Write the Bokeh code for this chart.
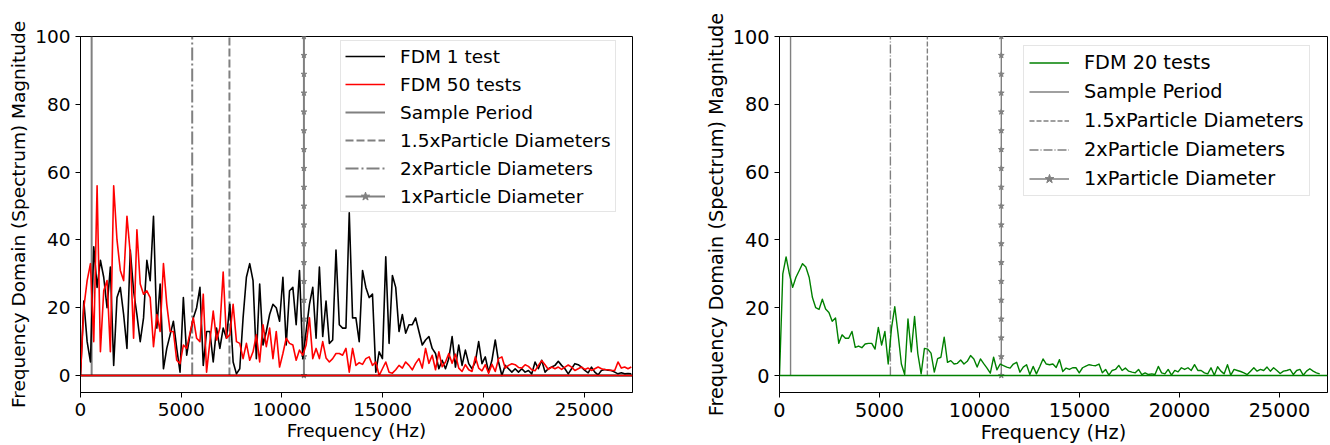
import numpy as np
from bokeh.plotting import figure
from bokeh.models import Span, Legend, LegendItem, FixedTicker, Range1d
from bokeh.layouts import row
from bokeh.embed import file_html
from bokeh.resources import INLINE

# FFT bin spacing (Hz)
DF = 164.7

fdm1 = [0, 22, 10, 4, 38, 26, 34, 29, 20, 32, 3, 23, 26, 18, 8, 37, 25, 18, 10, 17,
        34, 28, 47, 14, 27, 2, 8, 12, 16, 8, 1, 23, 6, 12, 17, 20, 26, 3, 13, 13,
        4, 14, 8, 14, 11, 21, 4, 0.5, 2, 17, 29, 33, 28, 5, 27, 9, 13, 18, 21, 20,
        16, 29, 9, 25, 26, 15, 31, 5, 13, 21, 26, 11, 32, 11.5, 22, 9.5, 10.5, 37, 15, 14,
        14, 48, 17, 17, 10, 31, 26, 23, 24, 1, 7, 5, 35, 9.5, 29.5, 26, 13, 18, 12.5, 15,
        15, 17, 13, 9, 10.5, 11.5, 8, 6.5, 2, 4.5, 2, 5, 11.5, 2.5, 9, 3, 7.5, 3.5, 2, 4,
        10, 3.5, 5.5, 1, 4.5, 10.5, 4, 0, 3, 2, 1, 2, 1, 2, 1, 1.5, 0.5, 4, 2, 4.5,
        1, 2, 2.5, 3, 4.2, 3, 2, 0.5, 2, 3.5, 3.2, 2.5, 1.5, 0.8, 2.5, 1, 0.2, 1.5, 1.8, 1.6,
        1.5, 1, 0.5, 0.8, 0.5, 0.6, 0.5]

fdm50 = [0, 20, 28, 33, 10, 56, 7, 25, 28, 7, 56, 40, 31, 28, 47, 36, 11, 43, 27, 24,
         25, 23, 8.5, 18, 13, 33, 21, 13, 13, 4.5, 3.5, 9, 8, 12.5, 17, 11, 10, 24, 1, 10,
         19, 10.5, 14, 30.5, 11, 12, 21, 10, 9.5, 5, 9.5, 4.5, 7, 12, 4, 15, 8.5, 14, 5, 13,
         2.5, 6.5, 11, 9.5, 9, 4.5, 7.5, 6, 9, 17, 5, 8, 5, 10, 5.2, 4, 5, 6.5, 6.5, 6,
         8, 1, 8, 3, 3.8, 3.3, 5, 5.5, 3, 4, 0, 2, 4, 1, 0.7, 1.7, 3, 2.2, 4, 3,
         1.7, 3.6, 5, 2.2, 8, 3.6, 6, 1.7, 7, 2.6, 4, 6.5, 3.6, 6.3, 2.2, 1.2, 3.2, 1.7, 1.2, 5.5,
         2.2, 1.4, 3.2, 0.7, 3.3, 1.2, 5, 5.5, 2.2, 3, 3.5, 3.2, 2.4, 2.2, 3.2, 2.7, 1.7, 1.4, 3, 4.4,
         3.2, 1.8, 2.5, 2, 2.5, 1.8, 2.5, 3.1, 2.5, 1.5, 2, 2.5, 1.8, 2.2, 1.5, 2, 2.5, 2, 1.8, 1.7,
         1.5, 1.5, 4, 2.2, 2.5, 2, 2.5]

fdm20 = [0, 30, 35, 30, 26, 29, 31, 33, 32, 29, 23, 20, 19.5, 22.5, 19.6, 18.6, 16, 17, 9.5, 12,
         11, 11, 13, 8.3, 8.7, 8.2, 9.3, 9.5, 9.5, 7.8, 14.2, 9, 13, 3.4, 14, 20.3, 12.3, 3.4, 0.3, 16.7,
         7, 17.4, 6.4, 0.5, 8, 7.8, 6.6, 1, 5, 5.4, 11.3, 3.9, 4.4, 3.4, 3.6, 4.6, 3.4, 4.2, 5.9, 4.9,
         2.5, 4.9, 3.5, 2.2, 0.7, 5.4, 1.7, 3.4, 2.9, 2.5, 2.2, 3.4, 3.9, 1, 2.5, 3.2, 0.3, 2.7, 0.5, 2.6,
         4.9, 3.4, 3.2, 3.4, 2.4, 4.7, 1.2, 2.2, 1.8, 2.3, 2.3, 0.8, 2.3, 2.8, 3.2, 3.0, 2.9, 3.4, 0.8, 1.8,
         0.1, 1.5, 1.8, 3.0, 1.5, 2.2, 1.3, 1.0, 0.8, 1.8, 0.3, 0.8, 0.3, 0.5, 0.3, 2.7, 0.8, 0.5, 1.8, 0.1,
         1.5, 1.1, 2.3, 1.8, 2.3, 1.5, 3.2, 1.5, 1.5, 0.8, 0.5, 2.3, 0.1, 2.6, 1.3, 0.5, 3.2, 0.1, 1.8, 1.5,
         1.2, 0.8, 0.3, 1.3, 2.3, 1.3, 1.8, 1.5, 2.5, 1.3, 2.3, 1.5, 0.6, 1.3, 1.5, 1.8, 0.3, 1.5, 1.8, 0.1,
         1.3, 2.0, 1.3, 0.8, 0.5]

freq1 = [i * DF for i in range(len(fdm1))]
freq50 = [i * DF for i in range(len(fdm50))]
freq20 = [i * DF for i in range(len(fdm20))]

SAMPLE_PERIOD_HZ = 553
DIAM_2X_HZ = 5545
DIAM_15X_HZ = 7393
DIAM_1X_HZ = 11090
REF_TOP = 100
N_MARKERS = 19

X_MAX = 27400
Y_MIN, Y_MAX = -5, 100
x_ticks = [0, 5000, 10000, 15000, 20000, 25000]
y_ticks = [0, 20, 40, 60, 80, 100]

FONT = "DejaVu Sans"
GRAY = "#808080"


def make_fig(frame_w, bl, br, fs, ref_lw, dash, dashdot, ylab_standoff):
    p = figure(frame_width=frame_w, frame_height=356,
               min_border_left=bl, min_border_right=br,
               min_border_top=36, min_border_bottom=53,
               x_range=Range1d(0, X_MAX), y_range=Range1d(Y_MIN, Y_MAX),
               output_backend="svg", toolbar_location=None)
    p.xgrid.visible = False
    p.ygrid.visible = False
    p.outline_line_color = "black"
    p.outline_line_alpha = 1
    p.outline_line_width = 1
    p.background_fill_color = "white"
    p.border_fill_color = "white"
    for ax in (p.xaxis[0], p.yaxis[0]):
        ax.axis_line_color = "black"
        ax.major_tick_line_color = "black"
        ax.major_tick_out = 5
        ax.major_tick_in = 0
        ax.minor_tick_line_color = None
        ax.major_label_text_font = FONT
        ax.major_label_text_font_size = fs
        ax.major_label_text_color = "black"
        ax.major_label_standoff = 5
        ax.axis_label_text_font = FONT
        ax.axis_label_text_font_size = fs
        ax.axis_label_text_font_style = "normal"
        ax.axis_label_text_color = "black"
    p.xaxis.ticker = FixedTicker(ticks=x_ticks)
    p.yaxis.ticker = FixedTicker(ticks=y_ticks)
    p.xaxis.axis_label = "Frequency (Hz)"
    p.yaxis.axis_label = "Frequency Domain (Spectrum) Magnitude"
    p.xaxis.axis_label_standoff = 1
    p.yaxis.axis_label_standoff = ylab_standoff

    r_sp = p.line([SAMPLE_PERIOD_HZ, SAMPLE_PERIOD_HZ], [0, REF_TOP], line_color=GRAY, line_width=ref_lw)
    r_15 = p.line([DIAM_15X_HZ, DIAM_15X_HZ], [0, REF_TOP], line_color=GRAY, line_width=ref_lw, line_dash=dash)
    r_2 = p.line([DIAM_2X_HZ, DIAM_2X_HZ], [0, REF_TOP], line_color=GRAY, line_width=ref_lw, line_dash=dashdot)
    r_1l = p.line([DIAM_1X_HZ, DIAM_1X_HZ], [0, REF_TOP], line_color=GRAY, line_width=ref_lw)
    my = list(np.linspace(0, REF_TOP, N_MARKERS))
    r_1m = p.scatter([DIAM_1X_HZ] * N_MARKERS, my, marker="star", size=6,
                     fill_color=GRAY, line_color=GRAY)
    refs = [("Sample Period", [r_sp]), ("1.5xParticle Diameters", [r_15]),
            ("2xParticle Diameters", [r_2]), ("1xParticle Diameter", [r_1l, r_1m])]
    return p, refs


def style_legend(p, items, fs, loc, lh, sp, pad):
    leg = Legend(items=items, location=loc)
    leg.label_text_font = FONT
    leg.label_text_font_size = fs
    leg.label_text_color = "black"
    leg.glyph_width = 40
    leg.glyph_height = lh
    leg.label_height = lh
    leg.spacing = sp
    leg.padding = pad
    leg.margin = 0
    leg.label_standoff = 15
    leg.border_line_color = "#cccccc"
    leg.border_line_width = 1
    leg.background_fill_alpha = 0.8
    p.add_layout(leg)


# Left plot
p1, refs1 = make_fig(552, 80, 58, "18.5px", 2.0, "8 3", "13 3 2 3", 3)
r_blk = p1.line(freq1, fdm1, line_color="black", line_width=1.6, line_join="round")
r_red = p1.line(freq50, fdm50, line_color="red", line_width=1.6, line_join="round")
p1.add_layout(Span(location=0, dimension="width", line_color="black", line_width=2))
p1.add_layout(Span(location=0, dimension="width", line_color="red", line_width=1.6))
items1 = [LegendItem(label="FDM 1 test", renderers=[r_blk]),
          LegendItem(label="FDM 50 tests", renderers=[r_red])]
items1 += [LegendItem(label=l, renderers=r) for l, r in refs1]
style_legend(p1, items1, "18.5px", (260, 180), 22, 6, 4)

# Right plot
p2, refs2 = make_fig(548, 89, 3, "19.3px", 1.4, "5 2", "9 2 1 2", 2)
r_grn = p2.line(freq20, fdm20, line_color="green", line_width=1.4, line_join="round")
p2.add_layout(Span(location=0, dimension="width", line_color="green", line_width=1.4))
items2 = [LegendItem(label="FDM 20 tests", renderers=[r_grn])]
items2 += [LegendItem(label=l, renderers=r) for l, r in refs2]
style_legend(p2, items2, "19.3px", (244, 196), 23, 6, 5)

layout = row(p1, p2)
open("out.html", "w").write(file_html(layout, INLINE))
